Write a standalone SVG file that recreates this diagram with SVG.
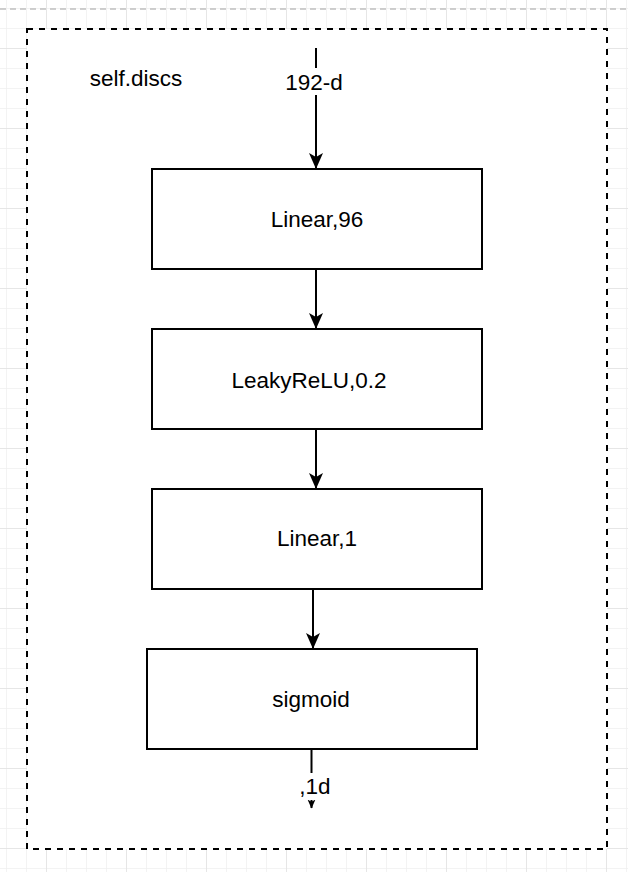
<svg xmlns="http://www.w3.org/2000/svg" width="628" height="872" viewBox="0 0 628 872">
<defs>
<pattern id="minor" x="6" y="8" width="20" height="20" patternUnits="userSpaceOnUse">
<path d="M0 0H20M0 0V20" fill="none" stroke="#f0f0f0" stroke-width="1.5"/>
</pattern>
<pattern id="major" x="46" y="48" width="80" height="80" patternUnits="userSpaceOnUse">
<path d="M0 0H80M0 0V80" fill="none" stroke="#d9d9d9" stroke-width="1"/>
</pattern>
<marker id="arr" viewBox="0 0 16 16" refX="15" refY="8" markerWidth="16" markerHeight="16" markerUnits="userSpaceOnUse" orient="auto">
<path d="M0 1L16 8L0 15L4 8Z" fill="#000"/>
</marker>
<marker id="arrSmall" viewBox="0 0 16 16" refX="15" refY="8" markerWidth="9" markerHeight="9" markerUnits="userSpaceOnUse" orient="auto">
<path d="M0 1L16 8L0 15L4 8Z" fill="#000"/>
</marker>
</defs>
<style>
.box{fill:#fff;stroke:#000;stroke-width:2}
.lbl{font-family:"Liberation Sans",Arial,sans-serif;font-size:22.5px;fill:#000;text-anchor:middle}
.edge{fill:none;stroke:#000;stroke-width:2}
</style>
<rect width="628" height="872" fill="#fff"/>
<rect width="628" height="872" fill="url(#minor)"/>
<rect width="628" height="872" fill="url(#major)"/>
<line x1="0" y1="9" x2="628" y2="9" stroke="#c0c0c0" stroke-width="1.5" stroke-dasharray="6 4"/>

<g id="container">
<rect x="27" y="29" width="580" height="820" fill="#fff" stroke="#000" stroke-width="2" stroke-dasharray="6 6"/>
<text class="lbl" x="136" y="86">self.discs</text>
</g>

<g id="node-linear96">
<rect class="box" x="152" y="169" width="330" height="100"/>
<text class="lbl" x="317" y="227">Linear,96</text>
</g>
<g id="node-leakyrelu">
<rect class="box" x="152" y="329" width="330" height="100"/>
<text class="lbl" x="309" y="388">LeakyReLU,0.2</text>
</g>
<g id="node-linear1">
<rect class="box" x="152" y="489" width="330" height="100"/>
<text class="lbl" x="317" y="546">Linear,1</text>
</g>
<g id="node-sigmoid">
<rect class="box" x="147" y="649" width="330" height="100"/>
<text class="lbl" x="311" y="707">sigmoid</text>
</g>

<g id="connectors">
<line class="edge" x1="316" y1="48" x2="316" y2="168" marker-end="url(#arr)"/>
<rect x="282" y="68" width="68" height="27" fill="#fff"/>
<text class="lbl" x="314" y="90">192-d</text>
<line class="edge" x1="316" y1="269" x2="316" y2="328" marker-end="url(#arr)"/>
<line class="edge" x1="316" y1="429" x2="316" y2="488" marker-end="url(#arr)"/>
<line class="edge" x1="313" y1="589" x2="313" y2="648" marker-end="url(#arr)"/>
<line class="edge" x1="311.5" y1="749" x2="311.5" y2="808" marker-end="url(#arrSmall)"/>
<rect x="298" y="773" width="36" height="27" fill="#fff"/>
<text class="lbl" x="315" y="794">,1d</text>
</g>
</svg>
